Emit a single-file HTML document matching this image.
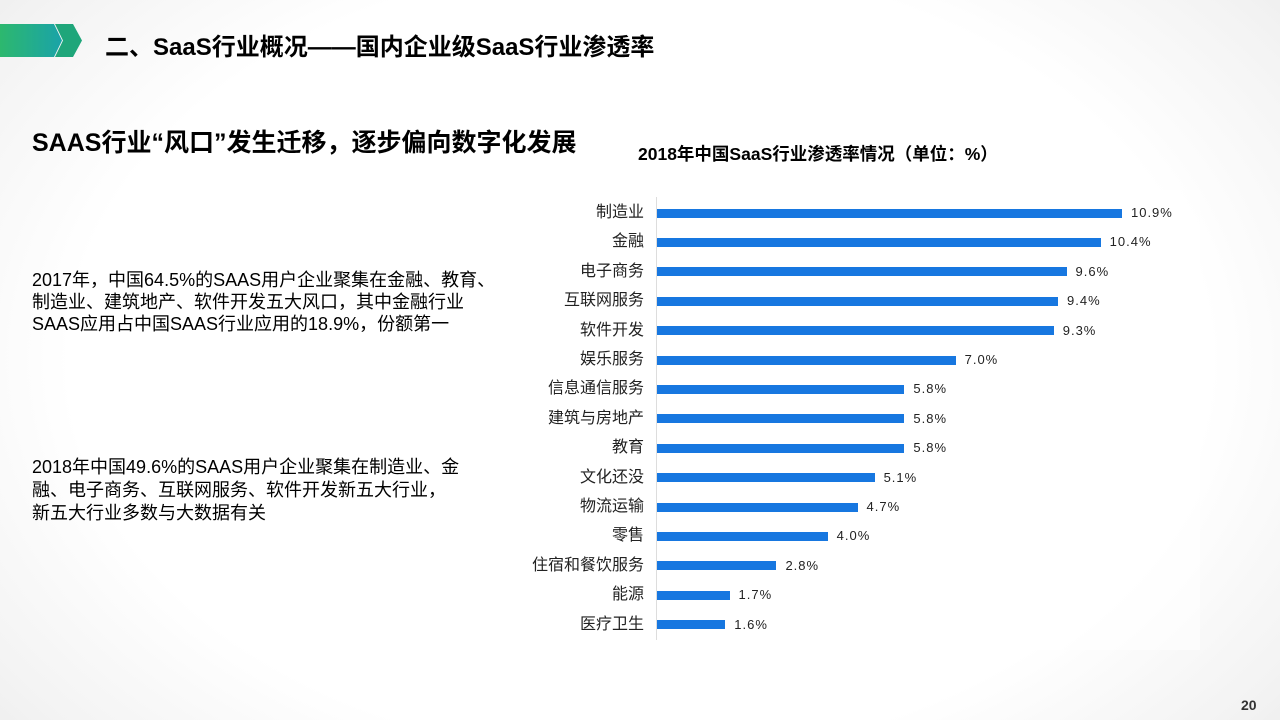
<!DOCTYPE html>
<html><head><meta charset="utf-8"><style>
*{margin:0;padding:0}
body{width:1280px;height:720px;overflow:hidden;position:relative;font-family:"Liberation Sans","Noto Sans CJK SC",sans-serif;
background:radial-gradient(ellipse 950px 660px at 640px 360px,#ffffff 60%,#f3f3f3 82%,#e6e6e6 100%);}
.t{position:absolute;white-space:nowrap;color:#000}
.lb{position:absolute;right:636px;font-size:16px;color:#222;white-space:nowrap;line-height:18px}
.bar{position:absolute;left:657px;height:9px;background:#1777e0}
.v{position:absolute;font-size:13px;color:#222;letter-spacing:1px;line-height:16px;white-space:nowrap}
</style></head><body>
<svg style="position:absolute;left:0;top:0" width="100" height="70">
<defs><linearGradient id="g" x1="0" x2="1"><stop offset="0" stop-color="#2db86e"/><stop offset="1" stop-color="#1aa3a8"/></linearGradient></defs>
<polygon points="0,24 54,24 62,40.5 54,57 0,57" fill="url(#g)"/>
<polygon points="55,24 73,24 82,40.5 73,57 55,57 63,40.5" fill="#1fa67a"/>
</svg>
<div class="t" style="left:105px;top:27px;font-size:24px;font-weight:bold">二、SaaS行业概况——国内企业级SaaS行业渗透率</div>
<div class="t" style="left:32px;top:123px;font-size:25px;font-weight:bold">SAAS行业“风口”发生迁移，逐步偏向数字化发展</div>
<div class="t" style="left:638px;top:141px;font-size:17.5px;font-weight:bold">2018年中国SaaS行业渗透率情况（单位：%）</div>
<div class="t" style="left:32px;top:269px;font-size:18px;line-height:22px">2017年，中国64.5%的SAAS用户企业聚集在金融、教育、<br>制造业、建筑地产、软件开发五大风口，其中金融行业<br>SAAS应用占中国SAAS行业应用的18.9%，份额第一</div>
<div class="t" style="left:32px;top:456px;font-size:18px;line-height:23px">2018年中国49.6%的SAAS用户企业聚集在制造业、金<br>融、电子商务、互联网服务、软件开发新五大行业，<br>新五大行业多数与大数据有关</div>
<div style="position:absolute;left:525px;top:190px;width:675px;height:460px;background:#fff;opacity:.5"></div>
<div style="position:absolute;left:656px;top:197px;width:1px;height:443px;background:#ddd"></div>
<div id="c"></div>
<div class="t" style="left:1241px;top:697px;font-size:14px;color:#333;font-weight:bold">20</div>
<script>
var d=[["制造业",10.9],["金融",10.4],["电子商务",9.6],["互联网服务",9.4],["软件开发",9.3],["娱乐服务",7.0],["信息通信服务",5.8],["建筑与房地产",5.8],["教育",5.8],["文化还没",5.1],["物流运输",4.7],["零售",4.0],["住宿和餐饮服务",2.8],["能源",1.7],["医疗卫生",1.6]];
var h="";d.forEach(function(e,i){var y=213+i*29.4;var w=e[1]*42.66;
h+='<div class="lb" style="top:'+(y-9)+'px">'+e[0]+'</div>';
h+='<div class="bar" style="top:'+(y-4.5)+'px;width:'+w+'px"></div>';
h+='<div class="v" style="left:'+(657+w+9)+'px;top:'+(y-8)+'px">'+e[1].toFixed(1)+'%</div>';});
document.getElementById("c").innerHTML=h;
</script>
</body></html>
